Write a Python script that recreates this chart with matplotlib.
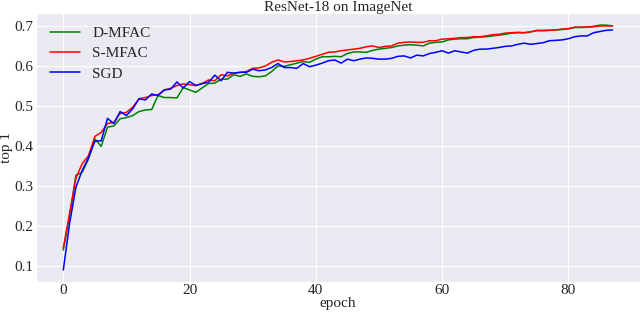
import matplotlib
matplotlib.use("Agg")
import matplotlib.pyplot as plt
import seaborn as sns
import numpy as np

# top-1 accuracy per epoch
d_mfac = [0.140, 0.225, 0.327, 0.334, 0.368, 0.418, 0.399, 0.447, 0.450, 0.468,
          0.471, 0.476, 0.486, 0.490, 0.491, 0.526, 0.521, 0.521, 0.520, 0.546,
          0.540, 0.534, 0.545, 0.556, 0.557, 0.567, 0.567, 0.578, 0.574, 0.580,
          0.574, 0.573, 0.575, 0.586, 0.600, 0.599, 0.603, 0.607, 0.611, 0.609,
          0.617, 0.623, 0.623, 0.624, 0.623, 0.631, 0.635, 0.635, 0.634, 0.639,
          0.642, 0.644, 0.646, 0.650, 0.652, 0.653, 0.652, 0.650, 0.657, 0.659,
          0.660, 0.665, 0.667, 0.668, 0.668, 0.671, 0.672, 0.673, 0.675, 0.677,
          0.679, 0.682, 0.683, 0.683, 0.685, 0.688, 0.688, 0.689, 0.690, 0.691,
          0.693, 0.696, 0.696, 0.697, 0.699, 0.702, 0.702, 0.700]

s_mfac = [0.145, 0.232, 0.320, 0.356, 0.376, 0.424, 0.434, 0.456, 0.459, 0.481,
          0.484, 0.497, 0.518, 0.521, 0.526, 0.528, 0.540, 0.544, 0.551, 0.555,
          0.553, 0.551, 0.556, 0.565, 0.563, 0.578, 0.575, 0.582, 0.584, 0.586,
          0.594, 0.595, 0.600, 0.609, 0.615, 0.610, 0.611, 0.613, 0.615, 0.619,
          0.624, 0.629, 0.634, 0.635, 0.638, 0.640, 0.642, 0.644, 0.648, 0.650,
          0.646, 0.649, 0.650, 0.657, 0.659, 0.660, 0.659, 0.659, 0.663, 0.663,
          0.667, 0.668, 0.669, 0.671, 0.671, 0.673, 0.673, 0.675, 0.678, 0.679,
          0.682, 0.683, 0.684, 0.683, 0.685, 0.689, 0.689, 0.689, 0.690, 0.692,
          0.693, 0.697, 0.697, 0.697, 0.698, 0.700, 0.700, 0.700]

sgd = [0.090, 0.207, 0.297, 0.339, 0.371, 0.412, 0.413, 0.469, 0.456, 0.486,
       0.476, 0.493, 0.518, 0.515, 0.530, 0.526, 0.540, 0.542, 0.560, 0.545,
       0.561, 0.551, 0.556, 0.559, 0.577, 0.563, 0.584, 0.582, 0.584, 0.584,
       0.592, 0.588, 0.590, 0.596, 0.606, 0.596, 0.596, 0.594, 0.606, 0.598,
       0.602, 0.607, 0.613, 0.615, 0.607, 0.617, 0.613, 0.617, 0.620, 0.619,
       0.617, 0.617, 0.619, 0.624, 0.625, 0.620, 0.627, 0.625, 0.631, 0.634,
       0.638, 0.632, 0.638, 0.635, 0.632, 0.639, 0.642, 0.642, 0.644, 0.646,
       0.649, 0.650, 0.654, 0.657, 0.654, 0.656, 0.658, 0.663, 0.664, 0.665,
       0.668, 0.673, 0.675, 0.675, 0.683, 0.686, 0.689, 0.690]

epochs = np.arange(len(sgd))

sns.set_style("darkgrid")
plt.rcParams['font.family'] = ['Liberation Serif', 'DejaVu Serif']

fig = plt.figure(figsize=(6.4, 3.14), dpi=100)
ax = fig.add_axes([0.056, 0.101, 0.944, 0.858])

ax.plot(epochs, d_mfac, color="green", lw=1.1, label="D-MFAC")
ax.plot(epochs, s_mfac, color="red", lw=1.1, label="S-MFAC")
ax.plot(epochs, sgd, color="blue", lw=1.1, label="SGD")

ax.set_title("ResNet-18 on ImageNet", fontsize=11, pad=1.5)
ax.set_xlabel("epoch", fontsize=11, labelpad=0)
ax.set_ylabel("top 1", fontsize=11, labelpad=1)
ax.tick_params(labelsize=11, length=0, pad=1.5)
ax.legend(loc="upper left", frameon=False, fontsize=11, labelspacing=0.42)

fig.savefig("out.png", dpi=100)
